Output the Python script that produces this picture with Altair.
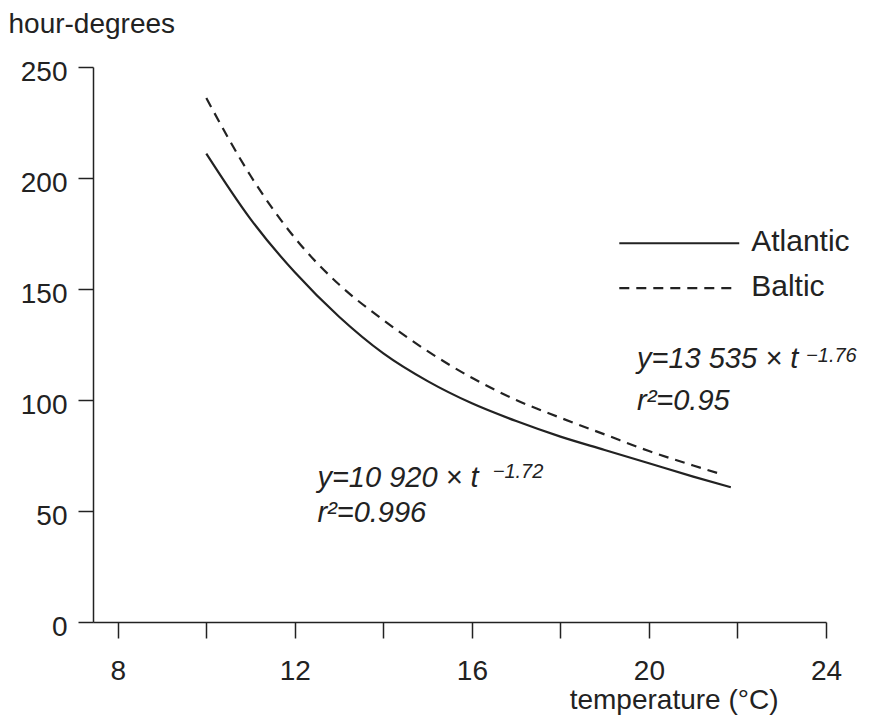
import altair as alt
import pandas as pd

# Atlantic curve
atl_t = [10, 11, 12, 13, 14, 15, 16, 17, 18, 19, 20, 21, 21.85]
atl_v = [211, 181.5, 157.5, 137.5, 121, 108.5, 98.5, 90.5, 83.5, 77.5, 71.5, 65.5, 60.7]

# Baltic curve
bal_t = [10, 11, 12, 13, 14, 15, 16, 17, 18, 19, 20, 21, 21.65]
bal_v = [236, 201, 173, 152, 136, 122, 110, 100, 92, 84.5, 77, 70.5, 66.5]

x_ticks = [8, 10, 12, 14, 16, 18, 20, 22, 24]
y_ticks = [0, 50, 100, 150, 200, 250]

legend_names = ["Atlantic", "Baltic"]
legend_x1 = [19.33, 19.33]
legend_x2 = [22.04, 21.99]
legend_y = [170.6, 150.4]
legend_tx = [22.31, 22.31]

eq_main = ["y=10 920 × t", "y=13 535 × t"]
eq_main_x = [12.51, 19.73]
eq_main_y = [60.8, 114.3]
eq_sup = ["−1.72", "−1.76"]
eq_sup_x = [16.47, 23.55]
eq_sup_y = [65.0, 117.2]
eq_r2 = ["r²=0.996", "r²=0.95"]
eq_r2_y = [45.0, 95.4]

FONT = "Liberation Sans"
INK = "#222222"

atl = pd.DataFrame({"t": atl_t, "v": atl_v})
bal = pd.DataFrame({"t": bal_t, "v": bal_v})
leg = pd.DataFrame({"name": legend_names, "x1": legend_x1, "x2": legend_x2,
                    "y": legend_y, "tx": legend_tx})
eqs = pd.DataFrame({"main": eq_main, "mx": eq_main_x, "my": eq_main_y,
                    "sup": eq_sup, "sx": eq_sup_x, "sy": eq_sup_y,
                    "r2": eq_r2, "ry": eq_r2_y})

xs = alt.Scale(domain=[7.44, 24], nice=False, zero=False)
ys = alt.Scale(domain=[0, 250], nice=False)

x_axis = alt.Axis(values=x_ticks,
                  labelExpr="datum.value % 4 == 0 ? datum.label : ''",
                  tickSize=16, labelPadding=19, labelFontSize=28, labelFont=FONT,
                  labelColor=INK, title="temperature (°C)", titleFont=FONT,
                  titleFontSize=28, titleFontWeight="normal", titleColor=INK,
                  titleX=685, titleY=86, titleAlign="right",
                  titleBaseline="alphabetic", domainColor=INK, tickColor=INK,
                  domainWidth=1.5, tickWidth=1.5, grid=False, labelFlush=False)
y_axis = alt.Axis(values=y_ticks, tickSize=15, labelPadding=11, labelFontSize=28,
                  labelFont=FONT, labelColor=INK, labelBaseline="alphabetic",
                  labelOffset=13, title="hour-degrees", titleFont=FONT,
                  titleFontSize=28, titleFontWeight="normal", titleColor=INK,
                  titleAngle=0, titleX=-85, titleY=-35, titleAlign="left",
                  titleBaseline="alphabetic", domainColor=INK, tickColor=INK,
                  domainWidth=1.5, tickWidth=1.5, grid=False, labelFlush=False)

atl_line = alt.Chart(atl).mark_line(color=INK, strokeWidth=2.2, interpolate="monotone").encode(
    x=alt.X("t:Q", scale=xs, axis=x_axis),
    y=alt.Y("v:Q", scale=ys, axis=y_axis),
)
bal_line = alt.Chart(bal).mark_line(color=INK, strokeWidth=2.2, strokeDash=[10, 7],
                                    interpolate="monotone").encode(
    x=alt.X("t:Q", scale=xs),
    y=alt.Y("v:Q", scale=ys),
)

leg_solid = alt.Chart(leg).transform_filter("datum.name == 'Atlantic'").mark_rule(
    color=INK, strokeWidth=2.2).encode(
    x=alt.X("x1:Q", scale=xs), x2="x2:Q", y=alt.Y("y:Q", scale=ys))
leg_dash = alt.Chart(leg).transform_filter("datum.name == 'Baltic'").mark_rule(
    color=INK, strokeWidth=2.2, strokeDash=[10, 7]).encode(
    x=alt.X("x1:Q", scale=xs), x2="x2:Q", y=alt.Y("y:Q", scale=ys))
leg_text = alt.Chart(leg).mark_text(font=FONT, fontSize=30, color=INK, align="left",
                                    baseline="middle", dy=-1).encode(
    x=alt.X("tx:Q", scale=xs), y=alt.Y("y:Q", scale=ys), text="name:N")

eq_main_t = alt.Chart(eqs).mark_text(font=FONT, fontSize=29, fontStyle="italic", color=INK,
                                     align="left", baseline="alphabetic").encode(
    x=alt.X("mx:Q", scale=xs), y=alt.Y("my:Q", scale=ys), text="main:N")
eq_sup_t = alt.Chart(eqs).mark_text(font=FONT, fontSize=20, fontStyle="italic", color=INK,
                                    align="left", baseline="alphabetic").encode(
    x=alt.X("sx:Q", scale=xs), y=alt.Y("sy:Q", scale=ys), text="sup:N")
eq_r2_t = alt.Chart(eqs).mark_text(font=FONT, fontSize=29, fontStyle="italic", color=INK,
                                   align="left", baseline="alphabetic").encode(
    x=alt.X("mx:Q", scale=xs), y=alt.Y("ry:Q", scale=ys), text="r2:N")

chart = alt.layer(atl_line, bal_line, leg_solid, leg_dash, leg_text,
                  eq_main_t, eq_sup_t, eq_r2_t).properties(
    width=733, height=555,
    padding={"left": 85, "top": 59, "right": 38, "bottom": 94},
    autosize=alt.AutoSizeParams(type="none"),
    background="white",
).configure_view(strokeWidth=0)

chart.save("out.html", embed_options={"renderer": "svg", "actions": False})
